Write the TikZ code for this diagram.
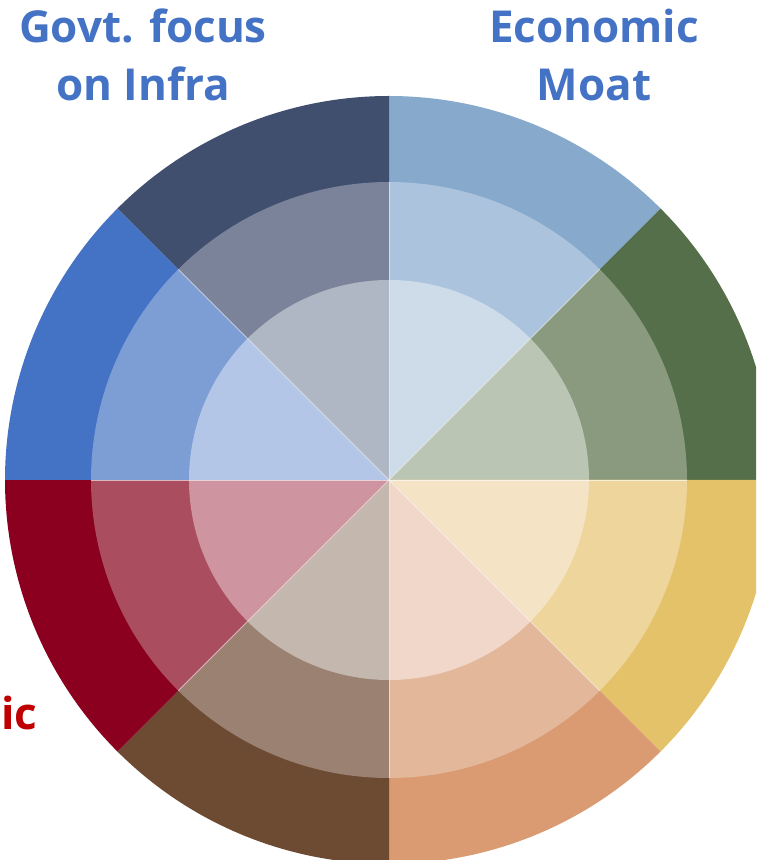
\documentclass[tikz,border=0pt]{standalone}
\usepackage{fontspec}
\setmainfont{Open Sans}
\definecolor{moatO}{HTML}{86A9CC}
\definecolor{moatM}{HTML}{ABC3DC}
\definecolor{moatI}{HTML}{CEDCEA}
\definecolor{greenO}{HTML}{546F49}
\definecolor{greenM}{HTML}{899A7E}
\definecolor{greenI}{HTML}{BAC5B4}
\definecolor{goldO}{HTML}{E3C26A}
\definecolor{goldM}{HTML}{EDD59B}
\definecolor{goldI}{HTML}{F4E4C5}
\definecolor{peachO}{HTML}{DA9B72}
\definecolor{peachM}{HTML}{E3B89A}
\definecolor{peachI}{HTML}{F0D7C9}
\definecolor{brownO}{HTML}{6D4A32}
\definecolor{brownM}{HTML}{9A8172}
\definecolor{brownI}{HTML}{C4B7AE}
\definecolor{redO}{HTML}{8A001E}
\definecolor{redM}{HTML}{AA4E5F}
\definecolor{redI}{HTML}{CE949F}
\definecolor{blueO}{HTML}{4472C4}
\definecolor{blueM}{HTML}{7D9DD5}
\definecolor{blueI}{HTML}{B4C6E7}
\definecolor{navyO}{HTML}{414F6F}
\definecolor{navyM}{HTML}{7A8399}
\definecolor{navyI}{HTML}{B0B7C4}
\definecolor{titleblue}{HTML}{4472C4}
\definecolor{titlered}{HTML}{C00000}

\begin{document}
\begin{tikzpicture}[x=1pt,y=1pt,
    title/.style={font=\bfseries\fontsize{44}{52}\selectfont,inner sep=0pt,anchor=base},
    divider/.style={white,opacity=0.6,line width=0.8pt}]
\useasboundingbox (0,0) rectangle (756,860);
\clip (0,0) rectangle (756,860);
\coordinate (hub) at (389,380);

% wheel, clockwise from the top
\foreach \a/\co/\cm/\ci in {90/moatO/moatM/moatI, 45/greenO/greenM/greenI,
    0/goldO/goldM/goldI, -45/peachO/peachM/peachI, -90/brownO/brownM/brownI,
    -135/redO/redM/redI, -180/blueO/blueM/blueI, -225/navyO/navyM/navyI}
{
  \fill[\co] (hub) -- ++(\a:384) arc[start angle=\a, end angle=\a-45, radius=384] -- cycle;
  \fill[\cm] (hub) -- ++(\a:298) arc[start angle=\a, end angle=\a-45, radius=298] -- cycle;
  \fill[\ci] (hub) -- ++(\a:200) arc[start angle=\a, end angle=\a-45, radius=200] -- cycle;
}
\foreach \a in {0,45,...,315}
  \draw[divider] (hub) -- ++(\a:298);

\node[title,text=titleblue] (govt1) at (143,817) {Govt. focus};
\node[title,text=titleblue] (govt2) at (143,759) {on Infra};
\node[title,text=titleblue] (moat1) at (594,817) {Economic};
\node[title,text=titleblue] (moat2) at (594,759) {Moat};
\node[title,text=titlered,anchor=base west] (tail) at (1,130) {ic};
\end{tikzpicture}
\end{document}
